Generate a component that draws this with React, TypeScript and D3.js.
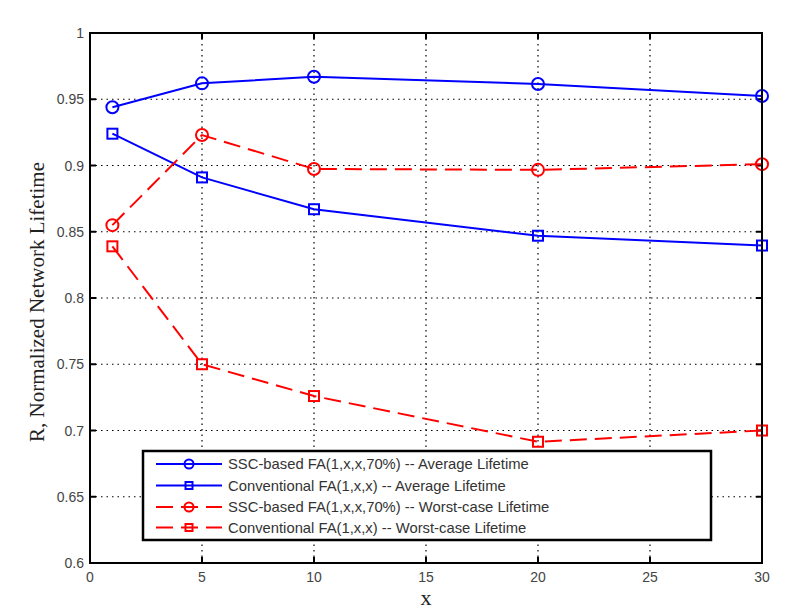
import React, { useEffect, useRef } from "react";
import * as d3 from "d3";

const xValues = [1, 5, 10, 20, 30];
const sscAverage = [0.944, 0.962, 0.967, 0.9615, 0.9525];
const convAverage = [0.924, 0.891, 0.867, 0.847, 0.8396];
const sscWorst = [0.855, 0.923, 0.8974, 0.8967, 0.901];
const convWorst = [0.839, 0.75, 0.726, 0.6915, 0.7];

const xTicks = [0, 5, 10, 15, 20, 25, 30];
const yTicks = [0.6, 0.65, 0.7, 0.75, 0.8, 0.85, 0.9, 0.95, 1];

const seriesNames = [
  "SSC-based FA(1,x,x,70%) -- Average Lifetime",
  "Conventional FA(1,x,x) -- Average Lifetime",
  "SSC-based FA(1,x,x,70%) -- Worst-case Lifetime",
  "Conventional FA(1,x,x) -- Worst-case Lifetime",
];

const series = [
  { name: seriesNames[0], values: sscAverage, color: "#0000ff", marker: "circle", dashed: false },
  { name: seriesNames[1], values: convAverage, color: "#0000ff", marker: "square", dashed: false },
  { name: seriesNames[2], values: sscWorst, color: "#ff0000", marker: "circle", dashed: true },
  { name: seriesNames[3], values: convWorst, color: "#ff0000", marker: "square", dashed: true },
];

const W = 807;
const H = 613;

export default function App() {
  const ref = useRef<SVGSVGElement>(null);

  useEffect(() => {
    const svg = d3.select(ref.current);
    svg.selectAll("*").remove();

    const left = 90, right = 762, top = 33, bottom = 563;
    const x = d3.scaleLinear().domain([0, 30]).range([left, right]);
    const y = d3.scaleLinear().domain([0.6, 1]).range([bottom, top]);

    svg.append("rect").attr("width", W).attr("height", H).attr("fill", "white");

    // dotted grid
    const grid = svg.append("g").attr("stroke", "#000").attr("stroke-width", 1.2)
      .attr("stroke-dasharray", "1.5,4");
    xTicks.slice(1, -1).forEach((t) => {
      grid.append("line").attr("x1", x(t)).attr("x2", x(t)).attr("y1", top).attr("y2", bottom);
    });
    yTicks.slice(1, -1).forEach((t) => {
      grid.append("line").attr("x1", left).attr("x2", right).attr("y1", y(t)).attr("y2", y(t));
    });

    // ticks inside on all four sides
    const tk = svg.append("g").attr("stroke", "#000").attr("stroke-width", 2);
    xTicks.forEach((t) => {
      tk.append("line").attr("x1", x(t)).attr("x2", x(t)).attr("y1", bottom).attr("y2", bottom - 6);
      tk.append("line").attr("x1", x(t)).attr("x2", x(t)).attr("y1", top).attr("y2", top + 6);
    });
    yTicks.forEach((t) => {
      tk.append("line").attr("x1", left).attr("x2", left + 6).attr("y1", y(t)).attr("y2", y(t));
      tk.append("line").attr("x1", right).attr("x2", right - 6).attr("y1", y(t)).attr("y2", y(t));
    });

    // tick labels
    const tickFont = "'Liberation Sans', Arial, sans-serif";
    xTicks.forEach((t) => {
      svg.append("text").attr("x", x(t)).attr("y", bottom + 19).attr("text-anchor", "middle")
        .attr("font-family", tickFont).attr("font-size", 14).attr("fill", "#444").text(String(t));
    });
    yTicks.forEach((t) => {
      svg.append("text").attr("x", left - 6).attr("y", y(t) + 5).attr("text-anchor", "end")
        .attr("font-family", tickFont).attr("font-size", 14).attr("fill", "#444").text(d3.format("")(t));
    });

    // series
    const line = d3.line<number>().x((_, i) => x(xValues[i])).y((d) => y(d));
    const drawMarker = (g: any, cx: number, cy: number, kind: string, color: string, size: number) => {
      if (kind === "circle") {
        g.append("circle").attr("cx", cx).attr("cy", cy).attr("r", size)
          .attr("fill", "none").attr("stroke", color).attr("stroke-width", 2);
      } else {
        g.append("rect").attr("x", cx - size + 1).attr("y", cy - size + 1)
          .attr("width", (size - 1) * 2).attr("height", (size - 1) * 2)
          .attr("fill", "none").attr("stroke", color).attr("stroke-width", 2);
      }
    };

    const plot = svg.append("g");
    series.forEach((s) => {
      plot.append("path").datum(s.values).attr("d", line).attr("fill", "none")
        .attr("stroke", s.color).attr("stroke-width", 2)
        .attr("stroke-dasharray", s.dashed ? "17,8" : null);
      s.values.forEach((v, i) => drawMarker(plot, x(xValues[i]), y(v), s.marker, s.color, 6));
    });

    // axes box
    svg.append("rect").attr("x", left).attr("y", top).attr("width", right - left).attr("height", bottom - top)
      .attr("fill", "none").attr("stroke", "#000").attr("stroke-width", 2);

    // legend
    const lg = svg.append("g");
    lg.append("rect").attr("x", 143).attr("y", 451).attr("width", 568).attr("height", 89)
      .attr("fill", "white").attr("stroke", "#000").attr("stroke-width", 2.5);
    const rowY = [464, 485.5, 507, 527.5];
    series.forEach((s, i) => {
      lg.append("line").attr("x1", 156).attr("x2", 222).attr("y1", rowY[i]).attr("y2", rowY[i])
        .attr("stroke", s.color).attr("stroke-width", 2)
        .attr("stroke-dasharray", s.dashed ? "17,8" : null);
      drawMarker(lg, 189, rowY[i], s.marker, s.color, 4.5);
      lg.append("text").attr("x", 228).attr("y", rowY[i] + 5)
        .attr("font-family", tickFont).attr("font-size", 14.8).attr("fill", "#333").text(s.name);
    });

    // axis labels
    svg.append("text").attr("x", x(15)).attr("y", 605).attr("text-anchor", "middle")
      .attr("font-family", "'Liberation Serif', 'Times New Roman', serif").attr("font-size", 22)
      .attr("fill", "#222").text("x");
    svg.append("text").attr("transform", `translate(44, 302) rotate(-90)`)
      .attr("text-anchor", "middle")
      .attr("font-family", "'Liberation Serif', 'Times New Roman', serif").attr("font-size", 21)
      .attr("fill", "#222").text("R, Normalized Network Lifetime");
  }, []);

  return (
    <svg ref={ref} width={W} height={H} style={{ position: "absolute", left: 0, top: 0 }} />
  );
}
